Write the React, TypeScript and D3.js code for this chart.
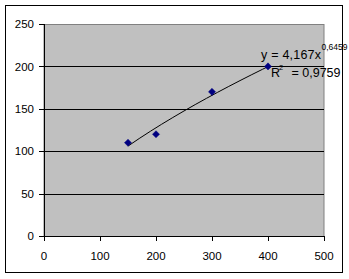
import React from "react";
import * as d3 from "d3";

const xValues = [150, 200, 300, 400];
const yValues = [110, 120, 170, 200];
const xTicks = [0, 100, 200, 300, 400, 500];
const yTicks = [0, 50, 100, 150, 200, 250];
const trendCoef = 4.167;
const trendExp = 0.6459;
const trendSamples = [150, 170, 190, 210, 230, 250, 270, 290, 310, 330, 350, 370, 390, 400];

const W = 349;
const H = 279;
const left = 44;
const right = 324;
const top = 24;
const bottom = 236;
const font = "'Liberation Sans', Arial, sans-serif";

export default function App() {
  const x = d3.scaleLinear().domain([0, 500]).range([left, right]);
  const y = d3.scaleLinear().domain([0, 250]).range([bottom, top]);
  const line = d3
    .line<number>()
    .x((d) => x(d))
    .y((d) => y(trendCoef * Math.pow(d, trendExp)));
  const diamond = d3.symbol().type(d3.symbolDiamond2).size(32)() as string;

  return (
    <svg
      width={W}
      height={H}
      style={{ position: "absolute", left: 0, top: 0, display: "block" }}
    >
      <rect x={0} y={0} width={W} height={H} fill="#fff" />
      <rect x={5.5} y={5.5} width={337} height={267} fill="#fff" stroke="#000" strokeWidth={1} />
      <rect
        x={left}
        y={top + 0.5}
        width={right - left}
        height={bottom - top}
        fill="#C0C0C0"
        stroke="#808080"
        strokeWidth={1}
      />
      {yTicks
        .filter((t) => t > 0 && t < 250)
        .map((t) => (
          <line
            key={"g" + t}
            x1={left}
            x2={right}
            y1={Math.round(y(t)) + 0.5}
            y2={Math.round(y(t)) + 0.5}
            stroke="#000"
            strokeWidth={1}
          />
        ))}
      <line x1={left + 0.5} x2={left + 0.5} y1={top} y2={bottom + 0.5} stroke="#000" />
      <line x1={left} x2={right + 0.5} y1={bottom + 0.5} y2={bottom + 0.5} stroke="#000" />
      {yTicks.map((t) => (
        <g key={"y" + t}>
          <line
            x1={left - 5}
            x2={left}
            y1={Math.round(y(t)) + 0.5}
            y2={Math.round(y(t)) + 0.5}
            stroke="#000"
          />
          <text
            x={left - 10}
            y={y(t)}
            dy="0.36em"
            textAnchor="end"
            fontFamily={font}
            fontSize={11.5}
            fill="#000"
          >
            {t}
          </text>
        </g>
      ))}
      {xTicks.map((t) => (
        <g key={"x" + t}>
          <line
            x1={Math.round(x(t)) + 0.5}
            x2={Math.round(x(t)) + 0.5}
            y1={bottom}
            y2={bottom + 5}
            stroke="#000"
          />
          <text
            x={x(t)}
            y={260}
            textAnchor="middle"
            fontFamily={font}
            fontSize={11.5}
            fill="#000"
          >
            {t}
          </text>
        </g>
      ))}
      <path d={line(trendSamples) as string} fill="none" stroke="#000" strokeWidth={1} />
      {xValues.map((v, i) => (
        <path
          key={"p" + i}
          d={diamond}
          transform={`translate(${x(v)},${y(yValues[i])})`}
          fill="#000080"
          stroke="#000080"
          strokeWidth={0.5}
        />
      ))}
      <text
        x={261}
        y={59}
        fontFamily={font}
        fontSize={12.5}
        fill="#000"
        textLength={60}
        lengthAdjust="spacing"
      >
        y = 4,167x
      </text>
      <text x={321.5} y={50} fontFamily={font} fontSize={8.5} fill="#000">
        0,6459
      </text>
      <text x={271} y={77} fontFamily={font} fontSize={12.5} fill="#000">
        R
        <tspan x={279} y={69.5} fontSize={7.5}>
          2
        </tspan>
        <tspan x={291.5} y={77}>
          = 0,9759
        </tspan>
      </text>
    </svg>
  );
}
